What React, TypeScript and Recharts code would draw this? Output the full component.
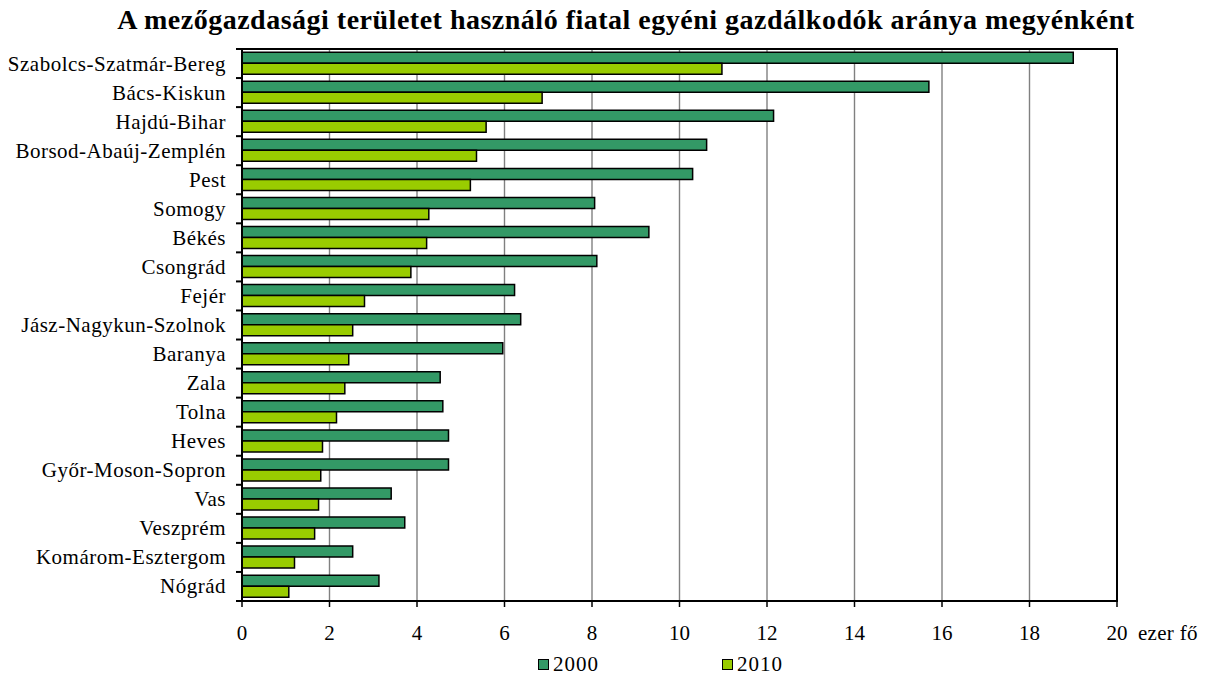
import React from 'react'
import {
  BarChart,
  Bar,
  XAxis,
  YAxis,
  CartesianGrid,
  ReferenceArea,
} from 'recharts'

const megyek = [
  'Szabolcs-Szatmár-Bereg',
  'Bács-Kiskun',
  'Hajdú-Bihar',
  'Borsod-Abaúj-Zemplén',
  'Pest',
  'Somogy',
  'Békés',
  'Csongrád',
  'Fejér',
  'Jász-Nagykun-Szolnok',
  'Baranya',
  'Zala',
  'Tolna',
  'Heves',
  'Győr-Moson-Sopron',
  'Vas',
  'Veszprém',
  'Komárom-Esztergom',
  'Nógrád',
]

const ertek2000 = [19.0, 15.7, 12.15, 10.62, 10.3, 8.06, 9.3, 8.11, 6.23, 6.37, 5.96, 4.53, 4.59, 4.72, 4.72, 3.41, 3.72, 2.53, 3.13]
const ertek2010 = [10.97, 6.86, 5.58, 5.36, 5.22, 4.27, 4.22, 3.86, 2.8, 2.53, 2.44, 2.35, 2.16, 1.84, 1.8, 1.75, 1.66, 1.2, 1.07]

const xTicks = [0, 2, 4, 6, 8, 10, 12, 14, 16, 18, 20]

const FONT = 'Liberation Serif, DejaVu Serif, serif'
const PLOT_TOP = 49
const PLOT_BOTTOM = 601
const BAND = (PLOT_BOTTOM - PLOT_TOP) / megyek.length

const adatok = megyek.map((nev, i) => ({
  nev,
  v2000: ertek2000[i],
  v2010: ertek2010[i],
}))

// kategória felirat + osztóvonal a sávok határán
function MegyeTick(props: any) {
  const { x, y, payload, index } = props
  const axisX = x + 16
  return (
    <g>
      <text
        x={x}
        y={y}
        dy={7}
        textAnchor="end"
        style={{ fontFamily: FONT, letterSpacing: 0.5 }}
        fontSize={21}
        fill="#000"
      >
        {payload.value}
      </text>
      <line x1={axisX - 6} x2={axisX} y1={y - BAND / 2} y2={y - BAND / 2} stroke="#000" strokeWidth={2} />
      {index === megyek.length - 1 && (
        <line x1={axisX - 6} x2={axisX} y1={y + BAND / 2} y2={y + BAND / 2} stroke="#000" strokeWidth={2} />
      )}
    </g>
  )
}

function ErtekTick(props: any) {
  const { x, y, payload } = props
  return (
    <g>
      <text x={x} y={y} dy={31} textAnchor="middle" style={{ fontFamily: FONT }} fontSize={21} fill="#000">
        {payload.value}
      </text>
      {payload.value === 20 && (
        <text
          x={x + 21}
          y={y}
          dy={31}
          textAnchor="start"
          style={{ fontFamily: FONT, letterSpacing: 0.3 }}
          fontSize={21}
          fill="#000"
        >
          ezer fő
        </text>
      )}
    </g>
  )
}

function Jelmagyarazat() {
  const elemek = [
    { nev: '2000', szin: '#339966', left: 538 },
    { nev: '2010', szin: '#99CC00', left: 722 },
  ]
  return (
    <>
      {elemek.map((e) => (
        <div
          key={e.nev}
          style={{
            position: 'absolute',
            left: e.left,
            top: 652,
            display: 'flex',
            alignItems: 'center',
            fontFamily: FONT,
            fontSize: 21,
            letterSpacing: 1,
            color: '#000',
          }}
        >
          <span
            style={{
              width: 9,
              height: 9,
              background: e.szin,
              border: '1.5px solid #000',
              marginRight: 4,
              display: 'inline-block',
            }}
          />
          {e.nev}
        </div>
      ))}
    </>
  )
}

export default function App() {
  return (
    <div style={{ position: 'absolute', left: 0, top: 0, width: 1206, height: 682, background: '#fff' }}>
      <div
        style={{
          position: 'absolute',
          left: 0,
          top: 4,
          width: 1252,
          textAlign: 'center',
          fontFamily: FONT,
          fontWeight: 'bold',
          fontSize: 28,
          letterSpacing: 0.5,
          color: '#000',
          whiteSpace: 'nowrap',
        }}
      >
        A mezőgazdasági területet használó fiatal egyéni gazdálkodók aránya megyénként
      </div>
      <BarChart
        width={1206}
        height={682}
        data={adatok}
        layout="vertical"
        margin={{ top: PLOT_TOP, right: 89, left: 10, bottom: 51 }}
        barCategoryGap="11%"
        barGap={0}
      >
        <CartesianGrid horizontal={false} stroke="#808080" strokeWidth={1.4} />
        <XAxis
          type="number"
          domain={[0, 20]}
          ticks={xTicks}
          height={30}
          axisLine={{ stroke: '#000', strokeWidth: 2 }}
          tickLine={{ stroke: '#000', strokeWidth: 1.5 }}
          tick={<ErtekTick />}
          interval={0}
        />
        <YAxis
          type="category"
          dataKey="nev"
          width={232}
          tickLine={false}
          tickMargin={10}
          axisLine={{ stroke: '#000', strokeWidth: 2 }}
          tick={<MegyeTick />}
          interval={0}
        />
        <ReferenceArea x1={0} x2={20} fill="none" stroke="#000" strokeWidth={2} />
        <Bar dataKey="v2000" fill="#339966" stroke="#000" strokeWidth={1.5} isAnimationActive={false} />
        <Bar dataKey="v2010" fill="#99CC00" stroke="#000" strokeWidth={1.5} isAnimationActive={false} />
      </BarChart>
      <Jelmagyarazat />
    </div>
  )
}
